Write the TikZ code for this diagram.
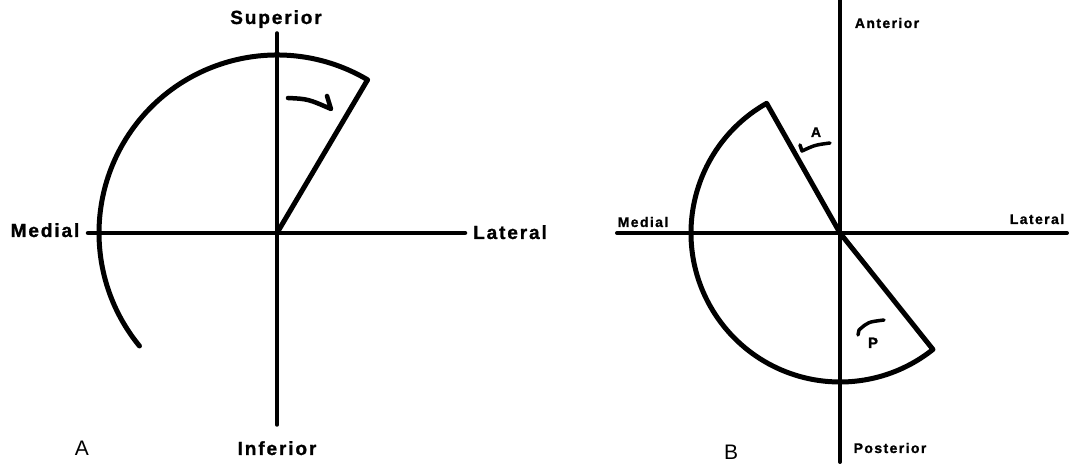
\documentclass[tikz,border=0pt]{standalone}
\usepackage{fontspec}
\usetikzlibrary{calc}
\setmainfont{Liberation Sans}
\newfontfamily\lblfont[LetterSpace=10,FakeBold=1.2]{Liberation Sans Bold}
\begin{document}
\begin{tikzpicture}[x=1pt,y=1pt,
  biglbl/.style={font=\fontsize{19}{19}\selectfont\lblfont, inner sep=0pt, anchor=base},
  smalllbl/.style={font=\fontsize{14}{14}\selectfont\lblfont, inner sep=0pt, anchor=base},
  panellbl/.style={font=\fontsize{21}{21}\selectfont, inner sep=0pt, anchor=base},
  axisline/.style={line width=4pt, line cap=round},
  arcline/.style={line width=5pt, line cap=round, line join=round},
  tick/.style={line width=4.5pt, line cap=round, line join=round}]
\useasboundingbox (0,0) rectangle (1074,465);
% ---------- Panel A ----------
\coordinate (oA) at (277,232);
\coordinate (aTop) at (277,432);
\coordinate (aBot) at (277,40);
\coordinate (aLeft) at (88,232);
\coordinate (aRight) at (465,232);
\coordinate (aCorner) at ($(oA)+(59.4:178)$);
\draw[axisline, line width=3.5pt] (aTop) -- (aBot);
\draw[axisline, line width=4.5pt] (aLeft) -- (aRight);
\draw[arcline] (oA) -- (aCorner) arc[start angle=59.4, end angle=219.4, radius=178];
\coordinate (aArS) at (288,367);
\coordinate (aArE) at (331,356);
\coordinate (aArT) at (327,369);
\draw[tick] (aArS) .. controls (308,366) .. (aArE) -- (aArT);
\node[biglbl] (sup) at (276,441) {Superior};
\node[biglbl] (inf) at (277,10) {Inferior};
\node[biglbl] (medA) at (45,228) {Medial};
\node[biglbl] (latA) at (510,226) {Lateral};
\node[panellbl] (labA) at (82,9) {A};
% ---------- Panel B ----------
\coordinate (oB) at (840,232);
\coordinate (bTop) at (840,465);
\coordinate (bBot) at (840,3);
\coordinate (bLeft) at (617,232);
\coordinate (bRight) at (1067,232);
\coordinate (bC1) at ($(oB)+(119.5:149)$);
\draw[axisline] (bTop) -- (bBot);
\draw[axisline] (bLeft) -- (bRight);
\draw[arcline] (oB) -- (bC1) arc[start angle=119.5, end angle=308.6, radius=149] -- cycle;
\coordinate (bArS) at (830,322);
\coordinate (bArE) at (802,314);
\coordinate (bArT) at (800,320);
\draw[tick, line width=3.5pt] (bArS) .. controls (815,320) .. (bArE) -- (bArT);
\coordinate (pArS) at (884,145);
\coordinate (pArE) at (859,135);
\coordinate (pArT) at (858,130);
\draw[tick, line width=3.5pt] (pArS) .. controls (868,143) .. (pArE) -- (pArT);
\node[smalllbl] (ant) at (887,437) {Anterior};
\node[smalllbl] (post) at (890,12) {Posterior};
\node[smalllbl] (medB) at (643,238) {Medial};
\node[smalllbl] (latB) at (1037,241) {Lateral};
\node[smalllbl] (lA) at (816,328) {A};
\node[smalllbl, font=\fontsize{15}{15}\selectfont\lblfont] (lP) at (873,117) {P};
\node[panellbl] (labB) at (731,5) {B};
\end{tikzpicture}
\end{document}
